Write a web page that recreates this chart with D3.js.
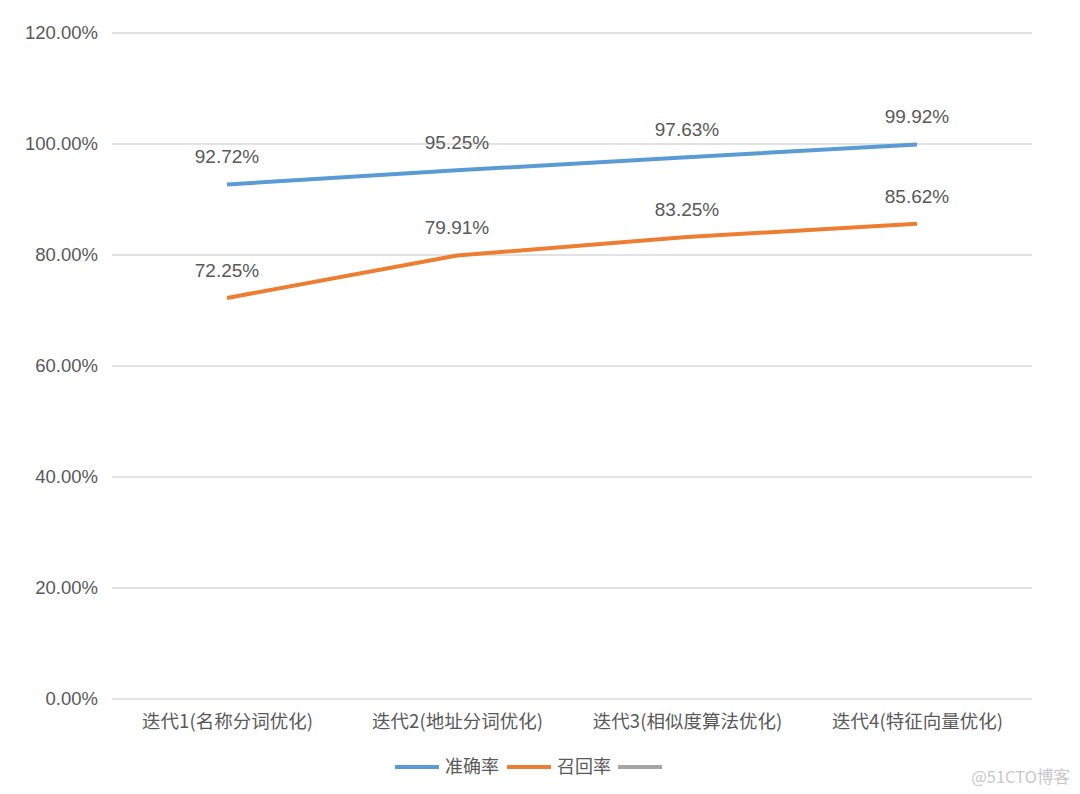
<!DOCTYPE html>
<html><head><meta charset="utf-8">
<script src="https://cdn.jsdelivr.net/npm/d3@7"></script>
<style>body{margin:0;background:#fff;}svg{display:block;}</style>
</head><body>
<svg id="c" width="1080" height="794"></svg>
<script>
const categories = ["迭代1(名称分词优化)","迭代2(地址分词优化)","迭代3(相似度算法优化)","迭代4(特征向量优化)"];
const precision = [92.72, 95.25, 97.63, 99.92];
const recall = [72.25, 79.91, 83.25, 85.62];
const seriesNames = ["准确率","召回率",""];
const yTicks = [0,20,40,60,80,100,120];

const svg = d3.select("#c");
const font = "'Noto Sans CJK SC', 'Liberation Sans', sans-serif";
const latin = "'Liberation Sans', Arial, sans-serif";
const txt = "#595959";
const x = d3.scalePoint().domain(categories).range([227, 917]);
const y = d3.scaleLinear().domain([0,120]).range([699, 33]);

svg.append("g").selectAll("line").data(yTicks).join("line")
  .attr("x1",112).attr("x2",1032).attr("y1",d=>y(d)).attr("y2",d=>y(d))
  .attr("stroke","#d9d9d9").attr("stroke-width",1.5);

const yAxis = svg.append("g").attr("transform","translate(98,0)")
  .call(d3.axisLeft(y).tickValues(yTicks).tickSize(0).tickPadding(0).tickFormat(d=>d.toFixed(2)+"%"));
yAxis.select(".domain").remove();
yAxis.selectAll("text").attr("fill",txt).style("font-family",latin).style("font-size","18.5px");

const xAxis = svg.append("g").attr("transform","translate(0,722)")
  .call(d3.axisBottom(x).tickSize(0).tickPadding(0));
xAxis.select(".domain").remove();
xAxis.selectAll("text").attr("fill",txt).attr("dy","0.35em").style("font-family",font).style("font-size","18.5px");

const colors = ["#5b9bd5","#ed7d31","#a5a5a5"];
const line = d3.line().x((d,i)=>x(categories[i])).y(d=>y(d));
[precision, recall].forEach((s,k)=>{
  svg.append("path").datum(s).attr("d",line).attr("fill","none")
    .attr("stroke",colors[k]).attr("stroke-width",4).attr("stroke-linejoin","round");
  svg.append("g").selectAll("text").data(s).join("text")
    .attr("x",(d,i)=>x(categories[i])).attr("y",d=>y(d)-21)
    .attr("text-anchor","middle").attr("fill",txt)
    .style("font-family",latin).style("font-size","19px")
    .text(d=>d.toFixed(2)+"%");
});

const legendX = [395, 507, 618];
seriesNames.forEach((n,i)=>{
  svg.append("line").attr("x1",legendX[i]).attr("x2",legendX[i]+44).attr("y1",767).attr("y2",767)
    .attr("stroke",colors[i]).attr("stroke-width",4);
  if(n) svg.append("text").attr("x",legendX[i]+50).attr("y",767).attr("dy","0.35em")
    .attr("fill",txt).style("font-family",font).style("font-size","18px").text(n);
});

svg.append("text").attr("x",1070).attr("y",777).attr("dy","0.35em").attr("text-anchor","end")
  .attr("fill","#c8c8c8").style("font-family",font).style("font-size","16.5px").text("@51CTO博客");
</script>
</body></html>
